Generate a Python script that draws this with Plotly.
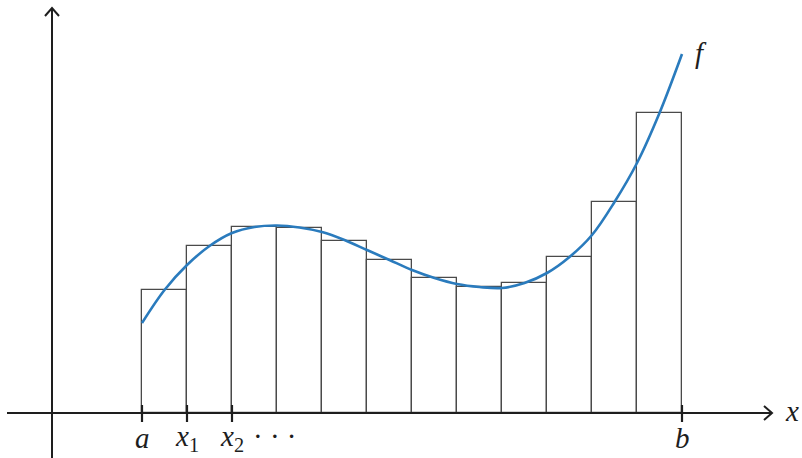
import plotly.graph_objects as go

# Riemann-sum rectangles (midpoint heights), 12 subintervals of [a, b]
bar_left = [0, 1, 2, 3, 4, 5, 6, 7, 8, 9, 10, 11]
bar_heights = [1.23, 1.67, 1.86, 1.85, 1.72, 1.53, 1.35, 1.26, 1.30, 1.56, 2.11, 3.00]

# Curve f
curve_x = [0, 0.5, 1, 1.5, 2, 2.5, 3, 3.5, 4, 4.5, 5, 5.5, 6, 6.5, 7, 7.5, 8, 8.5, 9, 9.5, 10, 10.5, 11, 11.5, 12]
curve_y = [0.90, 1.23, 1.48, 1.67, 1.80, 1.86, 1.875, 1.855, 1.81, 1.73, 1.63, 1.53, 1.43, 1.35, 1.29, 1.26, 1.25, 1.30, 1.40, 1.56, 1.78, 2.11, 2.50, 3.00, 3.59]

# Tick marks and labels on the x axis
tick_pos = [0, 1, 2, 12]
tick_labels = ["<i>a</i>", "<i>x</i><sub>1</sub>", "<i>x</i><sub>2</sub>", "<i>b</i>"]

PX = 45.0   # pixels per x unit
PY = 100.0  # pixels per y unit
X0 = 142.0  # pixel of x=0
Y0 = 413.0  # pixel of y=0
W, H = 802, 458

def dx(px):
    return (px - X0) / PX

def dy(py):
    return (Y0 - py) / PY

fig = go.Figure()

fig.add_trace(go.Bar(
    x=[l + 0.5 for l in bar_left], y=bar_heights, width=1.0,
    marker=dict(color="white", line=dict(color="#4a4a4a", width=1.3)),
    hoverinfo="skip", showlegend=False,
))

fig.add_trace(go.Scatter(
    x=curve_x, y=curve_y, mode="lines",
    line=dict(color="#2a7bbd", width=2.6, shape="spline", smoothing=1.0),
    hoverinfo="skip", showlegend=False,
))

axis_col = "#1e1e1e"
shapes = []
# x axis
shapes.append(dict(type="line", x0=dx(7), x1=dx(772), y0=0, y1=0,
                   line=dict(color=axis_col, width=2)))
# y axis
shapes.append(dict(type="line", x0=dx(52), x1=dx(52), y0=dy(458), y1=dy(8),
                   line=dict(color=axis_col, width=2)))
# arrowheads (open chevrons)
shapes.append(dict(type="path",
                   path=f"M {dx(764)} {dy(406)} L {dx(772)} {dy(413)} L {dx(764)} {dy(420)}",
                   line=dict(color=axis_col, width=2)))
shapes.append(dict(type="path",
                   path=f"M {dx(45)} {dy(16)} L {dx(52)} {dy(8)} L {dx(59)} {dy(16)}",
                   line=dict(color=axis_col, width=2)))
# ticks
for t in tick_pos:
    shapes.append(dict(type="line", x0=t, x1=t, y0=dy(405), y1=dy(422),
                       line=dict(color=axis_col, width=2.2)))

font = dict(family="Liberation Serif, DejaVu Serif, serif", size=29, color="#1e1e1e")
annotations = []
for t, lab in zip(tick_pos, tick_labels):
    annotations.append(dict(x=t, y=dy(438), text=lab, showarrow=False,
                            font=font, xanchor="center", yanchor="middle"))
annotations.append(dict(x=dx(274), y=dy(436), text="· · ·", showarrow=False,
                        font=font, xanchor="center", yanchor="middle"))
annotations.append(dict(x=dx(792), y=dy(411), text="<i>x</i>", showarrow=False,
                        font=font, xanchor="center", yanchor="middle"))
annotations.append(dict(x=dx(701), y=dy(53), text="<i>f</i>", showarrow=False,
                        font=font, xanchor="center", yanchor="middle"))

fig.update_layout(
    width=W, height=H, margin=dict(l=0, r=0, t=0, b=0),
    paper_bgcolor="white", plot_bgcolor="white",
    xaxis=dict(range=[dx(0), dx(W)], visible=False, fixedrange=True),
    yaxis=dict(range=[dy(H), dy(0)], visible=False, fixedrange=True),
    shapes=shapes, annotations=annotations, bargap=0, showlegend=False,
)

fig.write_html("out.html")
